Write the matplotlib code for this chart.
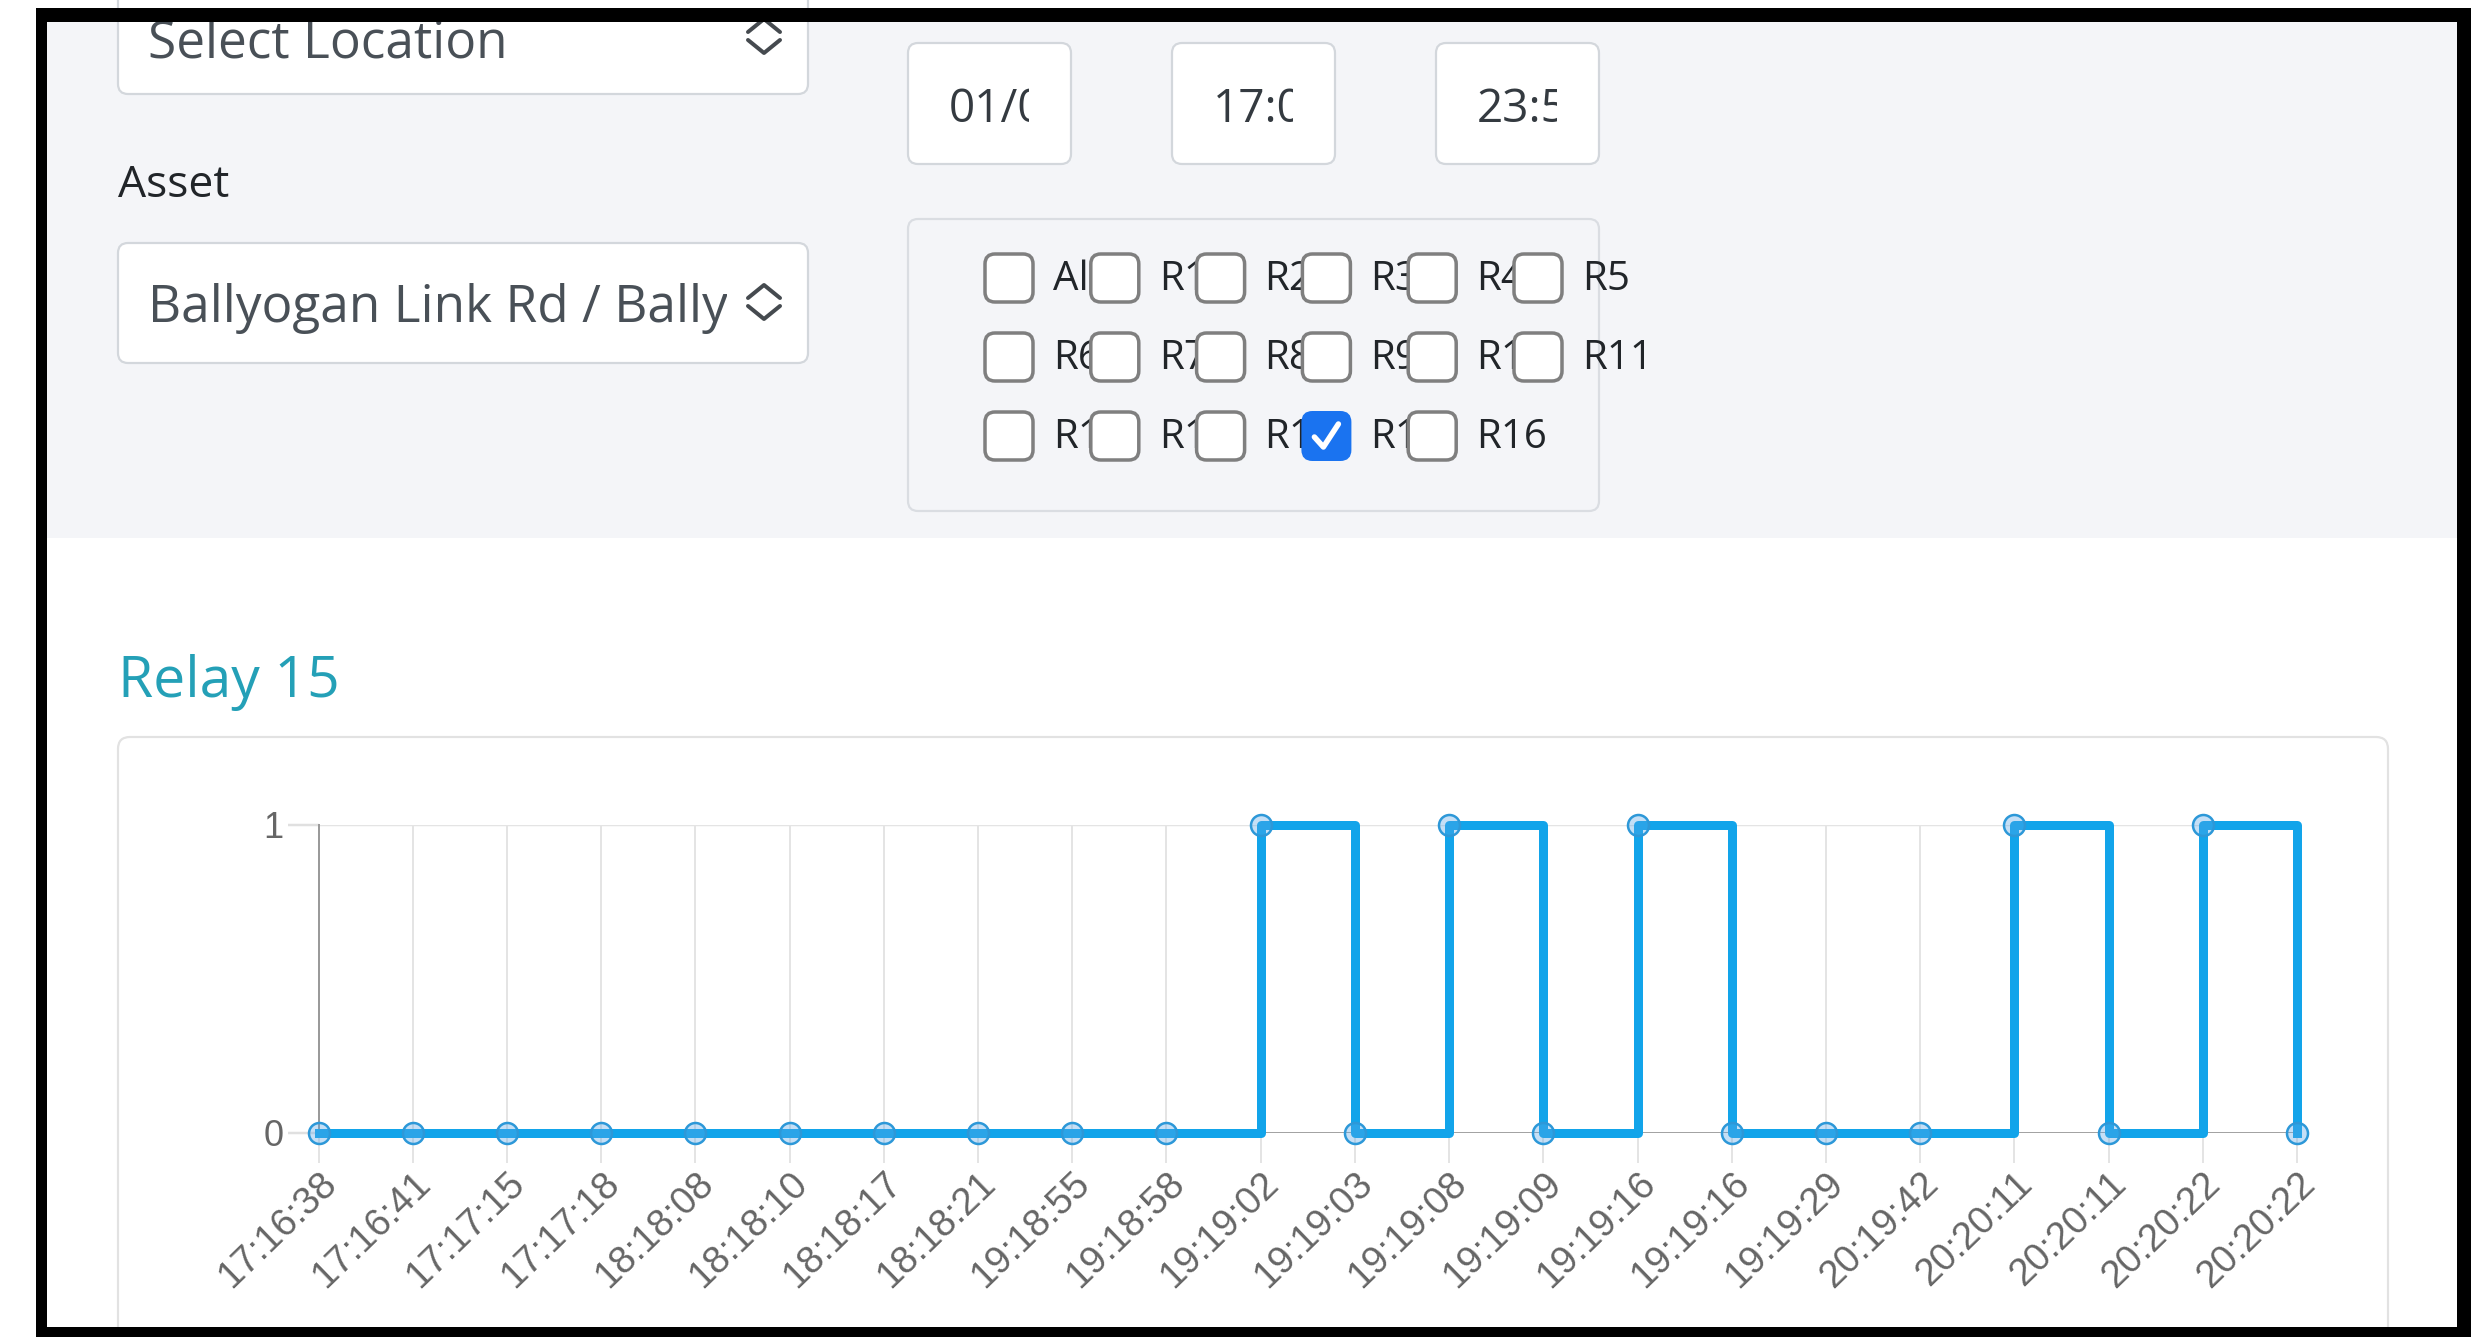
import numpy as np
import matplotlib.pyplot as plt
from matplotlib.patches import FancyBboxPatch, Rectangle
from matplotlib.transforms import Bbox, TransformedBbox

# chart data (Relay 15 state per event)
times = ["17:16:38", "17:16:41", "17:17:15", "17:17:18", "18:18:08", "18:18:10",
         "18:18:17", "18:18:21", "19:18:55", "19:18:58", "19:19:02", "19:19:03",
         "19:19:08", "19:19:09", "19:19:16", "19:19:16", "19:19:29", "20:19:42",
         "20:20:11", "20:20:11", "20:20:22", "20:20:22"]
relay15 = [0, 0, 0, 0, 0, 0, 0, 0, 0, 0, 1, 0, 1, 0, 1, 0, 0, 0, 1, 0, 1, 0]
y_ticks = [0, 1]

# form widgets
relay_rows = [["All", "R1", "R2", "R3", "R4", "R5"],
              ["R6", "R7", "R8", "R9", "R10", "R11"],
              ["R12", "R13", "R14", "R15", "R16"]]
checked = "R15"
input_values = ["01/04/2024", "17:00", "23:59"]
location_text = "Select Location"
asset_text = "Ballyogan Link Rd / Ballyogan Rd"
chart_title = "Relay 15"

W, H = 2484, 1337
PX = 0.72  # points per pixel at dpi 100

fig = plt.figure(figsize=(W / 100, H / 100), dpi=100)
bg = fig.add_axes([0, 0, 1, 1])
bg.set_xlim(0, W)
bg.set_ylim(H, 0)
bg.axis("off")


def rbox(x0, y0, x1, y1, r, fc, ec, lw, z):
    p = FancyBboxPatch((x0, y0), x1 - x0, y1 - y0,
                       boxstyle="round,pad=0,rounding_size=%g" % r,
                       fc=fc, ec=ec, lw=lw * PX, zorder=z)
    bg.add_patch(p)
    return p


def clip(t, x0, y0, x1, y1):
    t.set_clip_on(True)
    t.set_clip_box(TransformedBbox(Bbox([[x0, y0], [x1, y1]]), bg.transData))


def chevrons(cx, cy):
    for s in (-1, 1):
        bg.plot([cx - 16, cx, cx + 16], [cy + 4 * s, cy + 17 * s, cy + 4 * s],
                color="#454a4f", lw=4 * PX, solid_capstyle="round",
                solid_joinstyle="round", zorder=3)


# page and grey form panel
bg.add_patch(Rectangle((47, 22), 2457 - 47, 1327 - 22, fc="white", ec="none", zorder=0.1))
bg.add_patch(Rectangle((47, 22), 2457 - 47, 538 - 22, fc="#f4f5f8", ec="none", zorder=0.2))

ui = dict(family="Open Sans", zorder=2)

# location select (scrolled, top cut off)
rbox(118, -30, 808, 94, 10, "white", "#d3d7dc", 2.2, 1)
bg.text(148, 57, location_text, fontsize=37, color="#495057", va="baseline", **ui)
chevrons(764, 36)

bg.text(118, 197, "Asset", fontsize=32, color="#212529", va="baseline", **ui)

# asset select, text clipped before the arrow
rbox(118, 243, 808, 363, 10, "white", "#d3d7dc", 2.2, 1)
t = bg.text(148, 322, asset_text, fontsize=37, color="#495057", va="baseline", **ui)
clip(t, 130, 243, 727, 363)
chevrons(764, 302)

# date / time inputs
for i, val in enumerate(input_values):
    x0 = 908 + i * 264
    rbox(x0, 43, x0 + 163, 164, 10, "white", "#d3d7dc", 2.2, 1)
    t = bg.text(x0 + 41, 122, val, fontsize=33, color="#343a40", va="baseline", **ui)
    clip(t, x0 + 10, 43, x0 + 121, 164)

# relay checkbox panel
rbox(908, 219, 1599, 511, 10, "#f4f5f8", "#dadde2", 2.2, 1)
for r, row in enumerate(relay_rows):
    cy = 278 + r * 79
    for c, name in enumerate(row):
        cx = 1009 + c * 105.8
        bg.text(cx + 44, cy + 12, name, fontsize=29, color="#212529", va="baseline", **ui)
        if name == checked:
            rbox(cx - 24, cy - 24, cx + 24, cy + 24, 10, "#1a73f0", "#1a73f0", 2, 3)
            bg.plot([cx - 12, cx - 3, cx + 12], [cy + 1, cy + 11, cy - 12], color="white",
                    lw=5.5 * PX, solid_capstyle="round", solid_joinstyle="round", zorder=4)
        else:
            rbox(cx - 24, cy - 24, cx + 24, cy + 24, 10, "white", "#7f7f7f", 3.5, 3)

# chart heading and card
bg.text(118, 697, chart_title, fontsize=41, color="#24a0b7", va="baseline", **ui)
rbox(118, 737, 2388, 1400, 12, "white", "#e2e2e2", 2.2, 0.5)

# black screenshot frame on top of everything
for (fx, fy, fw, fh) in [(36, 8, 2471 - 36, 14), (36, 1327, 2471 - 36, 20),
                         (36, 8, 11, H), (2457, 8, 14, H)]:
    bg.add_patch(Rectangle((fx, fy), fw, fh, fc="black", ec="none", zorder=10))

# the chart itself
ax = fig.add_axes([318.6 / W, 1 - 1133 / H, (2297 - 318.6) / W, (1133 - 825) / H])
ax.patch.set_visible(False)
x = np.arange(len(times))
ax.set_xlim(0, len(times) - 1)
ax.set_ylim(0, 1)
for s in ["top", "right", "bottom"]:
    ax.spines[s].set_visible(False)
ax.spines["left"].set_color("#9a9a9a")
ax.spines["left"].set_linewidth(2 * PX)
ax.grid(axis="x", color="#e4e4e4", lw=2 * PX)
ax.axhline(1, color="#e4e4e4", lw=2.5 * PX, zorder=1)
ax.axhline(0, color="#a3a3a3", lw=3 * PX, zorder=1)

ax.set_xticks(x)
ax.set_xticklabels(times, family="Liberation Sans", fontsize=27.5, color="#666666")
ax.set_yticks(y_ticks)
ax.set_yticklabels([str(v) for v in y_ticks], family="Liberation Sans", fontsize=26,
                   color="#666666")
ax.tick_params(axis="x", length=30 * PX, width=2 * PX, color="#e4e4e4", pad=2)
ax.tick_params(axis="y", length=31 * PX, width=2.5 * PX, color="#e0e0e0", pad=3)
ax.yaxis.get_major_ticks()[0].tick1line.set_color("#a3a3a3")
for lbl in ax.get_xticklabels():
    lbl.set_rotation(44)
    lbl.set_ha("right")
    lbl.set_va("top")
    lbl.set_rotation_mode("anchor")

ax.plot(x, relay15, drawstyle="steps-post", color="#12a4ea", lw=9 * PX,
        clip_on=False, zorder=3)
ax.plot(x, relay15, "o", ls="none", ms=21 * PX, mfc=(0.35, 0.65, 0.9, 0.35),
        mec="#2d98d8", mew=2.5 * PX, clip_on=False, zorder=4)

fig.savefig("out.png", dpi=100)
